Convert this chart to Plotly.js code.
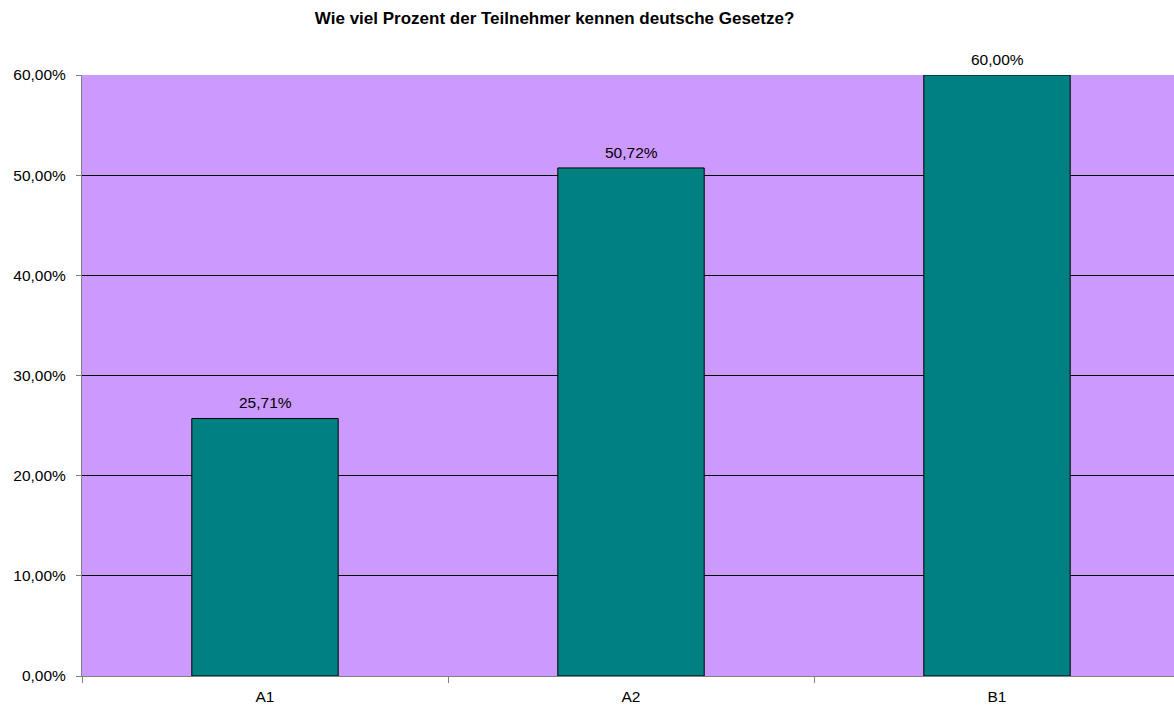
<!DOCTYPE html>
<html>
<head>
<meta charset="utf-8">
<script src="https://cdn.plot.ly/plotly-3.0.1.min.js"></script>
<style>html,body{margin:0;padding:0;overflow:hidden;background:#fff;width:1174px;height:709px;}</style>
</head>
<body>
<div id="chart" style="width:1180px;height:709px;"></div>
<script>
const categories = ['A1', 'A2', 'B1'];
const values = [0.2571, 0.5072, 0.60];
const tickValues = [0, 0.1, 0.2, 0.3, 0.4, 0.5, 0.6];

const FONT = 'Liberation Sans, Arial, sans-serif';

const trace = {
  type: 'bar',
  x: categories,
  y: values,
  width: 0.4,
  marker: {color: '#008080', line: {color: '#000000', width: 1}},
  hoverinfo: 'none'
};

const fmt = v => (v * 100).toFixed(2).replace('.', ',') + '%';
const annotations = categories.map((c, i) => ({
  x: c, y: values[i], xref: 'x', yref: 'y',
  text: fmt(values[i]), showarrow: false,
  yanchor: 'bottom', yshift: 5,
  font: {family: FONT, size: 15.5, color: '#000'}
}));

const layout = {
  width: 1180,
  height: 709,
  separators: ',.',
  title: {text: '<b>Wie viel Prozent der Teilnehmer kennen deutsche Gesetze?</b>', font: {family: FONT, size: 17, color: '#000'}, x: 0.470, xanchor: 'center', xref: 'container', y: 0.975, yanchor: 'middle'},
  margin: {l: 82, r: 0, t: 75, b: 33},
  paper_bgcolor: '#ffffff',
  plot_bgcolor: '#CC99FF',
  showlegend: false,
  annotations: annotations,
  font: {family: FONT, size: 15.5, color: '#000'},
  xaxis: {
    type: 'category',
    tickson: 'boundaries',
    ticks: 'outside',
    ticklen: 6,
    tickcolor: '#808080',
    showline: true,
    linecolor: '#808080',
    linewidth: 1,
    showgrid: false,
    ticklabelstandoff: 6,
    tickfont: {size: 15.5, color: '#000'}
  },
  yaxis: {
    range: [0, 0.6],
    tickvals: tickValues,
    tickformat: '.2%',
    ticks: 'outside',
    ticklen: 5,
    tickcolor: '#808080',
    showline: true,
    linecolor: '#808080',
    linewidth: 1,
    showgrid: true,
    gridcolor: '#000000',
    gridwidth: 1,
    zeroline: false,
    ticklabelstandoff: 7,
    tickfont: {size: 15.5, color: '#000'}
  }
};

Plotly.newPlot('chart', [trace], layout, {displayModeBar: false, staticPlot: true});
</script>
</body>
</html>
